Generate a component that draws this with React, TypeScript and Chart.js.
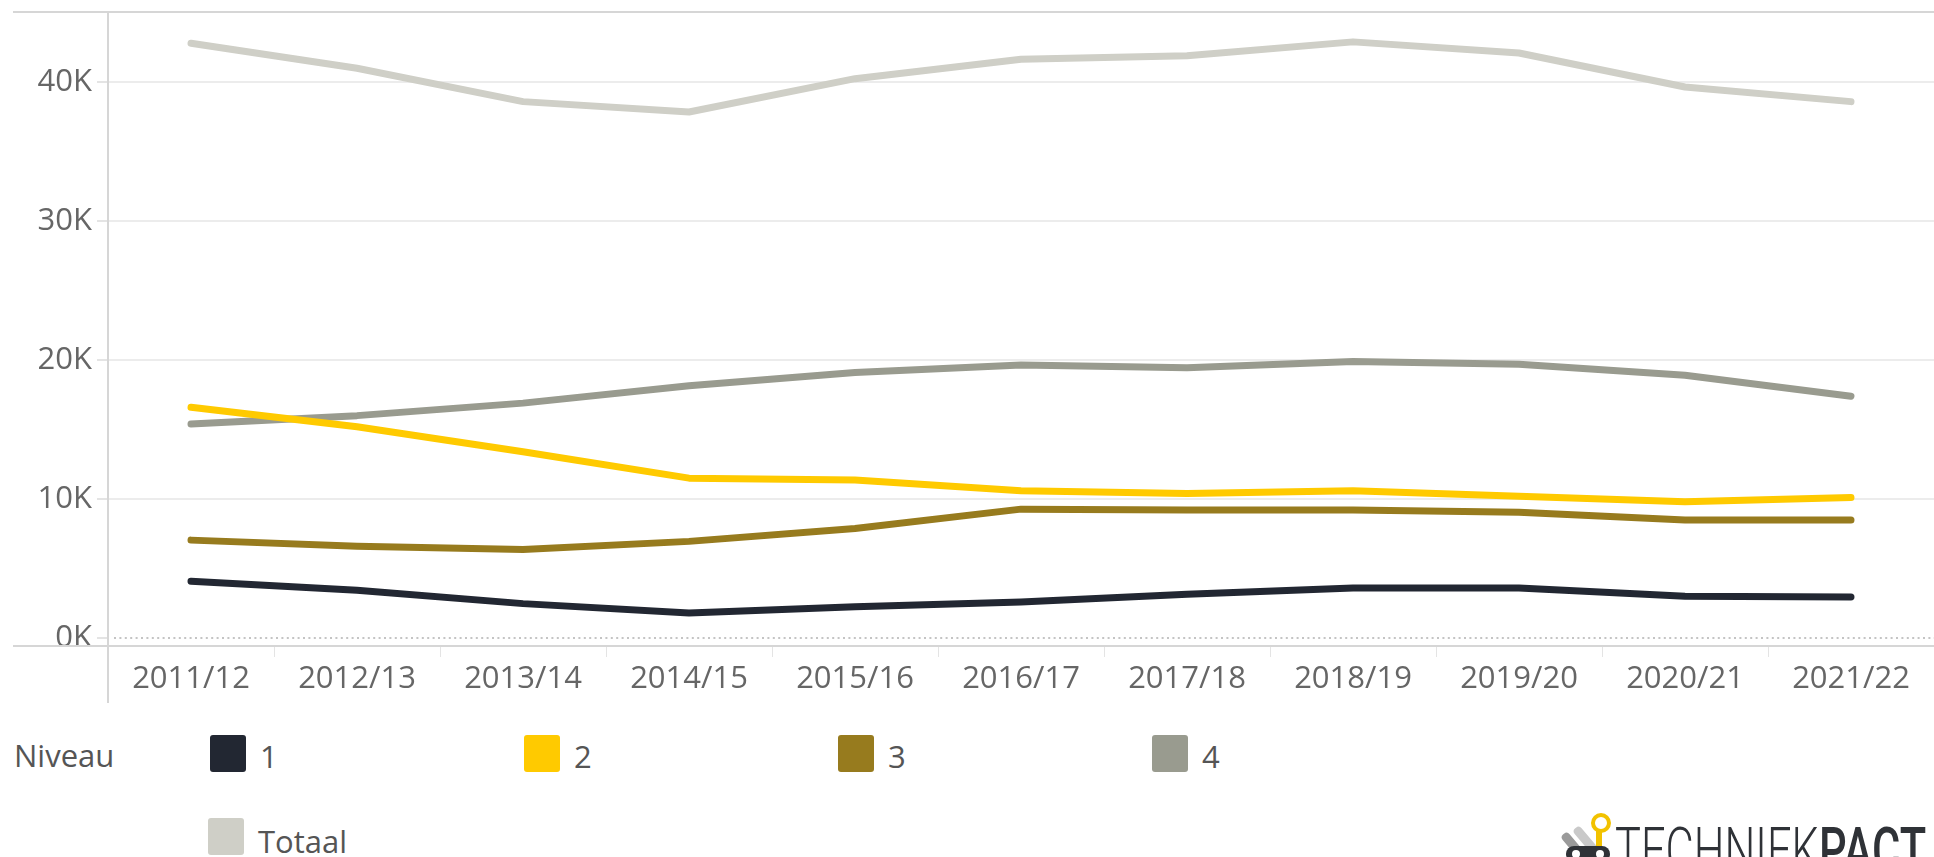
import React, { useEffect, useRef } from "react";
import { Chart, registerables } from "chart.js";

Chart.register(...registerables);

const categories = [
  "2011/12", "2012/13", "2013/14", "2014/15", "2015/16", "2016/17",
  "2017/18", "2018/19", "2019/20", "2020/21", "2021/22",
];
const niveau1 = [4080, 3430, 2470, 1800, 2240, 2580, 3150, 3600, 3600, 3000, 2950];
const niveau2 = [16600, 15200, 13400, 11500, 11360, 10600, 10400, 10600, 10200, 9800, 10100];
const niveau3 = [7040, 6600, 6370, 6950, 7880, 9270, 9210, 9200, 9040, 8480, 8480];
const niveau4 = [15400, 16000, 16900, 18150, 19100, 19640, 19450, 19900, 19700, 18900, 17400];
const totaal = [42800, 41000, 38600, 37850, 40250, 41650, 41900, 42900, 42100, 39650, 38600];
const yTicks = [0, 10000, 20000, 30000, 40000];

const seriesNames = ["1", "2", "3", "4", "Totaal"];
const seriesColors = ["#222732", "#ffca00", "#977b1e", "#999b8f", "#cfcfc7"];

const FONT = "'Open Sans', 'Noto Sans', sans-serif";
const TEXT = "#666666";

const framePlugin = {
  id: "frame",
  beforeDatasetsDraw(chart: any) {
    const { ctx, chartArea, width } = chart;
    const y0 = chart.scales.y.getPixelForValue(0);
    ctx.save();
    // zero dotted line
    ctx.strokeStyle = "#c4c4c4";
    ctx.lineWidth = 2;
    ctx.setLineDash([2, 3.4]);
    ctx.beginPath();
    ctx.moveTo(chartArea.left + 6, y0);
    ctx.lineTo(width, y0);
    ctx.stroke();
    ctx.setLineDash([]);
    // top border
    ctx.strokeStyle = "#d6d6d6";
    ctx.lineWidth = 2;
    ctx.beginPath();
    ctx.moveTo(13, chartArea.top);
    ctx.lineTo(width, chartArea.top);
    ctx.stroke();
    // bottom axis line
    ctx.beginPath();
    ctx.moveTo(13, chartArea.bottom);
    ctx.lineTo(width, chartArea.bottom);
    ctx.stroke();
    // y axis line
    ctx.beginPath();
    ctx.moveTo(chartArea.left, chartArea.top);
    ctx.lineTo(chartArea.left, 703);
    ctx.stroke();
    ctx.restore();
  },
};

function LineChart() {
  const ref = useRef<HTMLCanvasElement | null>(null);
  useEffect(() => {
    if (!ref.current) return;
    const data = [niveau1, niveau2, niveau3, niveau4, totaal];
    const chart = new Chart(ref.current, {
      type: "line",
      data: {
        labels: categories,
        datasets: data.map((d, i) => ({
          label: seriesNames[i],
          data: d,
          borderColor: seriesColors[i],
          backgroundColor: seriesColors[i],
          borderWidth: 7,
          borderCapStyle: "round",
          borderJoinStyle: "round",
          pointRadius: 0,
          tension: 0,
          fill: false,
        })),
      },
      options: {
        animation: false,
        responsive: false,
        maintainAspectRatio: false,
        layout: { padding: { top: 12, left: 0, right: 0, bottom: 0 } },
        plugins: { legend: { display: false }, tooltip: { enabled: false } },
        scales: {
          x: {
            type: "category",
            offset: true,
            grid: {
              offset: true,
              drawOnChartArea: false,
              drawTicks: true,
              tickLength: 11,
              color: "#e4e4e4",
              lineWidth: 1,
            },
            border: { display: false },
            ticks: {
              color: TEXT,
              font: { family: FONT, size: 31 },
              padding: 4,
              maxRotation: 0,
              autoSkip: false,
            },
            afterFit: (s: any) => {
              s.height = 74;
              s.paddingLeft = 0;
              s.paddingRight = 0;
            },
          },
          y: {
            min: -580,
            max: 45050,
            afterBuildTicks: (s: any) => {
              s.ticks = yTicks.map((v) => ({ value: v }));
            },
            grid: {
              color: (c: any) => (c.tick && c.tick.value === 0 ? "rgba(0,0,0,0)" : "#ececec"),
              tickColor: "#e4e4e4",
              tickLength: 11,
              lineWidth: 2,
            },
            border: { display: false },
            ticks: {
              color: TEXT,
              font: { family: FONT, size: 31 },
              padding: 5,
              callback: (v: any) => `${Number(v) / 1000}K`,
            },
            afterFit: (s: any) => {
              s.width = 108;
              s.paddingTop = 0;
              s.paddingBottom = 0;
            },
          },
        },
      },
      plugins: [framePlugin],
    } as any);
    return () => chart.destroy();
  }, []);
  return (
    <canvas
      ref={ref}
      width={1934}
      height={720}
      style={{ position: "absolute", left: 0, top: 0, width: 1934, height: 720 }}
    />
  );
}

const legendLabel: React.CSSProperties = {
  position: "absolute",
  fontFamily: FONT,
  fontSize: 31,
  color: "#555",
  lineHeight: "40px",
  whiteSpace: "nowrap",
};

function Legend() {
  const firstRow = [0, 1, 2, 3];
  return (
    <>
      <div style={{ ...legendLabel, left: 14, top: 735 }}>Niveau</div>
      {firstRow.map((i) => (
        <React.Fragment key={i}>
          <div
            style={{
              position: "absolute",
              left: 210 + i * 314,
              top: 735,
              width: 36,
              height: 37,
              borderRadius: 3,
              background: seriesColors[i],
            }}
          />
          <div style={{ ...legendLabel, left: 260 + i * 314, top: 736 }}>{seriesNames[i]}</div>
        </React.Fragment>
      ))}
      <div
        style={{
          position: "absolute",
          left: 208,
          top: 818,
          width: 36,
          height: 37,
          borderRadius: 3,
          background: seriesColors[4],
        }}
      />
      <div style={{ ...legendLabel, left: 258, top: 821 }}>{seriesNames[4]}</div>
    </>
  );
}

function Logo() {
  return (
    <>
      <div style={{ position: "absolute", left: 1570, top: 830, width: 9, height: 34, background: "#9a9a9a", transform: "rotate(-40deg)", borderRadius: 4 }} />
      <div style={{ position: "absolute", left: 1582, top: 824, width: 9, height: 34, background: "#c9c9c9", transform: "rotate(-40deg)", borderRadius: 4 }} />
      <div style={{ position: "absolute", left: 1591, top: 813, width: 12, height: 12, border: "4px solid #f2c200", borderRadius: "50%" }} />
      <div style={{ position: "absolute", left: 1596, top: 831, width: 6, height: 16, background: "#f2c200" }} />
      <div style={{ position: "absolute", left: 1566, top: 846, width: 44, height: 16, background: "#2f3237", borderRadius: 8 }} />
      <div style={{ position: "absolute", left: 1572, top: 850, width: 8, height: 8, background: "#fff", borderRadius: "50%" }} />
      <div style={{ position: "absolute", left: 1596, top: 850, width: 8, height: 8, background: "#fff", borderRadius: "50%" }} />
      <div
        style={{
          position: "absolute",
          left: 1615,
          top: 819,
          fontFamily: "Roboto, sans-serif",
          fontWeight: 300,
          fontSize: 62,
          lineHeight: 1,
          color: "#2f3237",
          whiteSpace: "nowrap",
          transform: "scaleX(0.7)",
          transformOrigin: "left top",
        }}
      >
        TECHNIEK<span style={{ fontWeight: 500 }}>PACT</span>
      </div>
    </>
  );
}

export default function App() {
  return (
    <div
      style={{
        position: "fixed",
        left: 0,
        top: 0,
        width: 1934,
        height: 857,
        overflow: "hidden",
        background: "#ffffff",
      }}
    >
      <LineChart />
      <Legend />
      <Logo />
    </div>
  );
}
